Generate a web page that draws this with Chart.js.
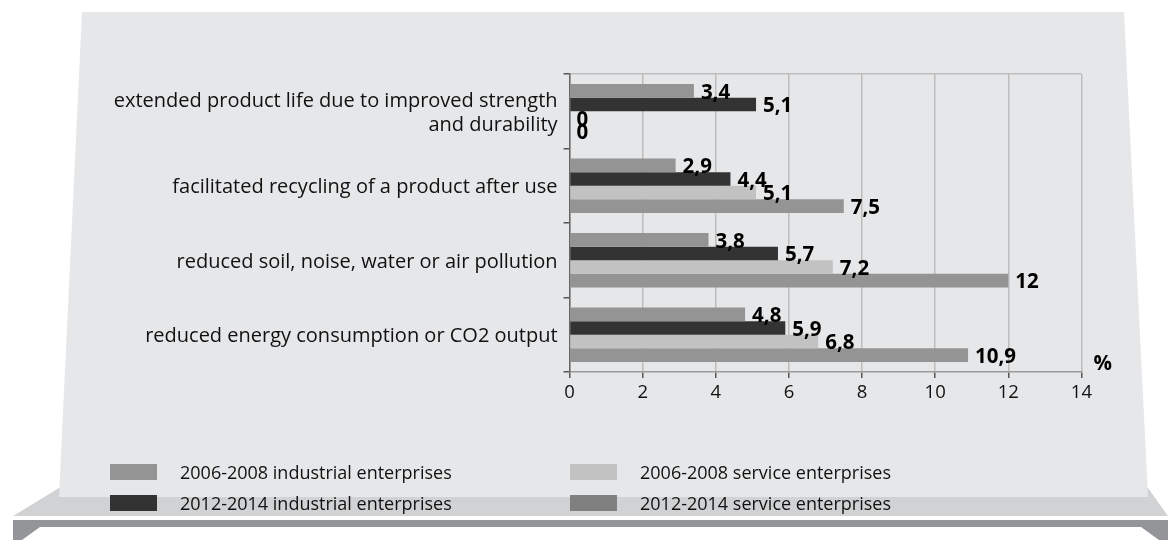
<!DOCTYPE html>
<html>
<head>
<meta charset="utf-8">
<script src="https://cdn.jsdelivr.net/npm/chart.js@4/dist/chart.umd.min.js"></script>
<style>
  html, body { margin: 0; padding: 0; background: #ffffff; }
  #wrap { position: relative; width: 1170px; height: 540px; overflow: hidden; }
  #wrap canvas { position: absolute; left: 0; top: 0; }
  .legend { position: absolute; font-family: "Open Sans", sans-serif; font-size: 18px; color: #111; }
  .item { position: absolute; display: flex; align-items: center; white-space: nowrap; }
  .sw { width: 47px; height: 16px; margin-right: 23px; }
</style>
</head>
<body>
<div id="wrap">
  <canvas id="c" width="1170" height="540"></canvas>
  <div class="legend" id="legend"></div>
</div>
<script>
// ---- data ----
const categories = [
  ['extended product life due to improved strength', 'and durability'],
  'facilitated recycling of a product after use',
  'reduced soil, noise, water or air pollution',
  'reduced energy consumption or CO2 output'
];
const seriesNames = [
  '2006-2008 industrial enterprises',
  '2012-2014 industrial enterprises',
  '2006-2008 service enterprises',
  '2012-2014 service enterprises'
];
const industrial2006 = [3.4, 2.9, 3.8, 4.8];
const industrial2012 = [5.1, 4.4, 5.7, 5.9];
const service2006    = [0, 5.1, 7.2, 6.8];
const service2012    = [0, 7.5, 12, 10.9];
const xTicks = [0, 2, 4, 6, 8, 10, 12, 14];
const unitLabel = '%';

const barColors = ['#949494', '#333333', '#c2c2c2', '#949494'];
const legendColors = ['#949494', '#333333', '#c2c2c2', '#808080'];
const seriesValues = [industrial2006, industrial2012, service2006, service2012];

// ---- decorative background (panel + shelf) ----
const backdrop = {
  id: 'backdrop',
  beforeDraw(chart) {
    const ctx = chart.ctx;
    ctx.save();
    ctx.fillStyle = '#d1d2d4';
    ctx.beginPath();
    ctx.moveTo(59, 488); ctx.lineTo(1148, 488); ctx.lineTo(1168, 516); ctx.lineTo(13, 516); ctx.closePath();
    ctx.fill();
    ctx.fillStyle = '#939598';
    ctx.fillRect(13, 520, 1155, 7);
    ctx.beginPath();
    ctx.moveTo(13, 527); ctx.lineTo(40, 527); ctx.lineTo(22, 540); ctx.lineTo(13, 540); ctx.closePath();
    ctx.fill();
    ctx.beginPath();
    ctx.moveTo(1168, 527); ctx.lineTo(1141, 527); ctx.lineTo(1159, 540); ctx.lineTo(1168, 540); ctx.closePath();
    ctx.fill();
    ctx.fillStyle = '#e6e7e9';
    ctx.beginPath();
    ctx.moveTo(82, 12); ctx.lineTo(1124, 12); ctx.lineTo(1148, 497); ctx.lineTo(59, 497); ctx.closePath();
    ctx.fill();
    ctx.restore();
  }
};

// ---- value labels + unit ----
const valueLabels = {
  id: 'valueLabels',
  afterDatasetsDraw(chart) {
    const ctx = chart.ctx;
    ctx.save();
    ctx.font = 'bold 20.5px "Open Sans", sans-serif';
    ctx.fillStyle = '#000';
    ctx.textAlign = 'left';
    ctx.textBaseline = 'middle';
    chart.data.datasets.forEach((ds, di) => {
      const meta = chart.getDatasetMeta(di);
      meta.data.forEach((el, i) => {
        const v = ds.data[i];
        ctx.fillText(String(v).replace('.', ','), el.x + 7, el.y + 2);
      });
    });
    const a = chart.chartArea;
    ctx.fillText(unitLabel, a.right + 12, a.bottom - 8);
    ctx.restore();
  }
};

const datasets = seriesNames.map((name, i) => ({
  label: name,
  data: seriesValues[i],
  backgroundColor: barColors[i],
  borderWidth: 0,
  categoryPercentage: 0.73,
  barPercentage: 1.0
}));

new Chart(document.getElementById('c'), {
  type: 'bar',
  data: { labels: categories, datasets },
  options: {
    indexAxis: 'y',
    responsive: false,
    animation: false,
    devicePixelRatio: 1,
    layout: { padding: { top: 74, left: 0, right: 88.6, bottom: 128 } },
    plugins: { legend: { display: false }, tooltip: { enabled: false } },
    scales: {
      x: {
        min: xTicks[0], max: xTicks[xTicks.length - 1],
        afterBuildTicks: s => { s.ticks = xTicks.map(v => ({ value: v })); },
        afterFit: s => { s.height = 40; },
        grid: { color: '#bdbdbd', lineWidth: 1.5, tickLength: 6, tickColor: '#555' },
        border: { color: '#9a9a9a', width: 1.5 },
        ticks: { color: '#111', padding: 4, font: { family: '"Open Sans", sans-serif', size: 18.5 } }
      },
      y: {
        afterFit: s => { s.width = 569.6; },
        grid: {
          offset: true,
          color: c => c.index === 0 ? '#bdbdbd' : 'rgba(0,0,0,0)',
          lineWidth: 1.5, tickLength: 6, tickColor: '#555'
        },
        border: { color: '#666', width: 1.5 },
        ticks: { color: '#111', padding: 6, labelOffset: 2, font: { family: '"Open Sans", sans-serif', size: 20, lineHeight: 1.2 } }
      }
    }
  },
  plugins: [backdrop, valueLabels]
});

// ---- legend (2 columns, column-major) ----
const legendPos = [[110, 472], [110, 503], [570, 472], [570, 503]];
const lg = document.getElementById('legend');
seriesNames.forEach((name, i) => {
  const d = document.createElement('div');
  d.className = 'item';
  d.style.left = legendPos[i][0] + 'px';
  d.style.top = (legendPos[i][1] - 12) + 'px';
  d.style.height = '24px';
  d.innerHTML = '<span class="sw" style="background:' + legendColors[i] + '"></span><span>' + name + '</span>';
  lg.appendChild(d);
});
</script>
</body>
</html>
